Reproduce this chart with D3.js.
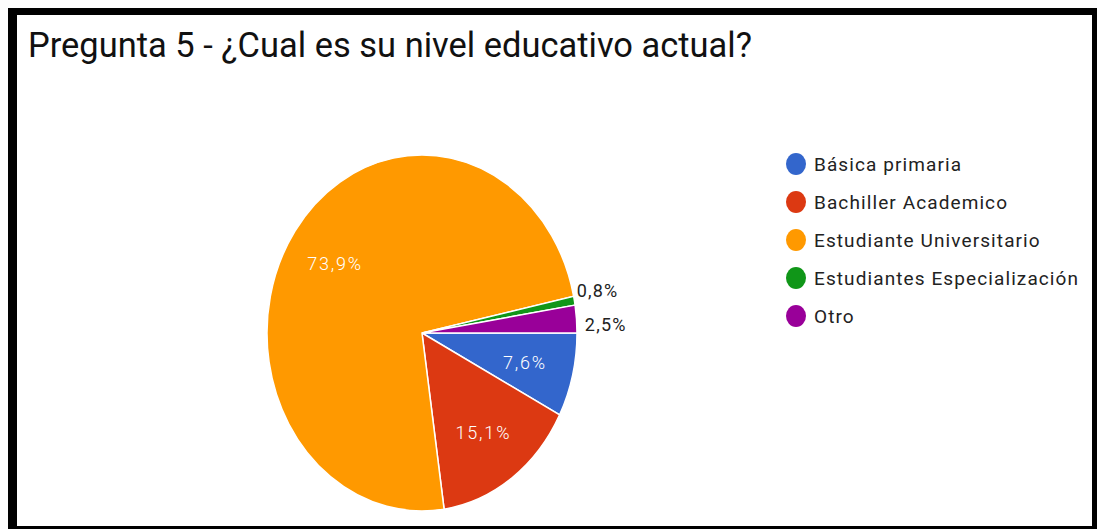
<!DOCTYPE html>
<html lang="es">
<head>
    <meta charset="UTF-8">
    <title>Pregunta 5</title>
    <script src="https://d3js.org/d3.v7.min.js"></script>
    <style>
        html, body { margin: 0; padding: 0; background: #fdfdfd; }
        svg { display: block; font-family: Roboto, "Liberation Sans", Arial, sans-serif; }
    </style>
</head>
<body>
    <div id="chart"></div>
    <script>
        // Data
        const categories = ["Básica primaria", "Bachiller Academico", "Estudiante Universitario", "Estudiantes Especialización", "Otro"];
        const percents = [7.6, 15.1, 73.9, 0.8, 2.5];
        const sliceColors = ["#3366cc", "#dc3912", "#ff9900", "#109618", "#990099"];
        const title = "Pregunta 5 - ¿Cual es su nivel educativo actual?";

        const width = 1097;
        const height = 529;

        const svg = d3.select("#chart")
            .append("svg")
            .attr("width", width)
            .attr("height", height);

        // black frame around the screenshot
        svg.append("rect")
            .attr("x", 8).attr("y", 8)
            .attr("width", width - 8).attr("height", height)
            .attr("fill", "#000");
        svg.append("rect")
            .attr("x", 17).attr("y", 15)
            .attr("width", 1092 - 17).attr("height", 526 - 15)
            .attr("fill", "#fff");

        // title (picture is a bit stretched vertically)
        svg.append("text")
            .attr("transform", "translate(28,57) scale(1,1.15)")
            .attr("font-size", 30)
            .attr("fill", "#111")
            .attr("textLength", 724)
            .attr("lengthAdjust", "spacingAndGlyphs")
            .text(title);

        // pie
        const cx = 422, cy = 333, r = 155, stretch = 1.148;
        const data = categories.map((c, i) => ({ name: c, value: percents[i], color: sliceColors[i] }));

        const pie = d3.pie()
            .value(d => d.value)
            .sort(null)
            .startAngle(Math.PI / 2)
            .endAngle(Math.PI / 2 + 2 * Math.PI);

        const arcs = pie(data);
        const arc = d3.arc().innerRadius(0).outerRadius(r);
        const labelArc = d3.arc().innerRadius(106).outerRadius(106);

        const g = svg.append("g")
            .attr("transform", `translate(${cx},${cy}) scale(1,${stretch})`);

        g.selectAll("path")
            .data(arcs)
            .join("path")
            .attr("d", arc)
            .attr("fill", d => d.data.color)
            .attr("stroke", "#fff")
            .attr("stroke-width", 1.5)
            .attr("vector-effect", "non-scaling-stroke");

        const fmt = v => d3.format(".1f")(v).replace(".", ",") + "%";

        // labels for big slices sit inside
        const inside = arcs.filter(d => d.data.value >= 5);
        svg.selectAll("text.inlabel")
            .data(inside)
            .join("text")
            .attr("class", "inlabel")
            .attr("x", d => cx + labelArc.centroid(d)[0])
            .attr("y", d => cy + labelArc.centroid(d)[1] * stretch)
            .attr("dy", "0.4em")
            .attr("text-anchor", "middle")
            .attr("font-size", 18)
            .attr("font-weight", 300)
            .attr("letter-spacing", 1.8)
            .attr("fill", "#fff")
            .text(d => fmt(d.data.value));

        // small slices get labels outside, spread apart
        const outside = arcs.filter(d => d.data.value < 5).map(d => {
            const a = (d.startAngle + d.endAngle) / 2;
            return { d, y: cy - Math.cos(a) * r * 1.08 * stretch };
        }).sort((a, b) => a.y - b.y);
        const gap = 34;
        const meanY = d3.mean(outside, o => o.y);
        outside.forEach((o, i) => { o.y = meanY + (i - (outside.length - 1) / 2) * gap; });
        outside.forEach(o => {
            const dy = (o.y - cy) / stretch;
            o.x = cx + Math.sqrt(Math.max(0, r * r - dy * dy)) + 4;
        });

        svg.selectAll("text.outlabel")
            .data(outside)
            .join("text")
            .attr("class", "outlabel")
            .attr("x", (o, i) => o.x + i * 4)
            .attr("y", o => o.y)
            .attr("dy", "0.35em")
            .attr("font-size", 18)
            .attr("letter-spacing", 1.2)
            .attr("fill", "#222")
            .text(o => fmt(o.d.data.value));

        // legend
        const legend = svg.append("g").attr("transform", "translate(796,164)");
        const rows = legend.selectAll("g")
            .data(data)
            .join("g")
            .attr("transform", (d, i) => `translate(0,${i * 38})`);

        rows.append("ellipse")
            .attr("rx", 10)
            .attr("ry", 11)
            .attr("fill", d => d.color);

        rows.append("text")
            .attr("x", 18)
            .attr("dy", "0.36em")
            .attr("font-size", 19)
            .attr("letter-spacing", 1.1)
            .attr("fill", "#222")
            .text(d => d.name);
    </script>
</body>
</html>
